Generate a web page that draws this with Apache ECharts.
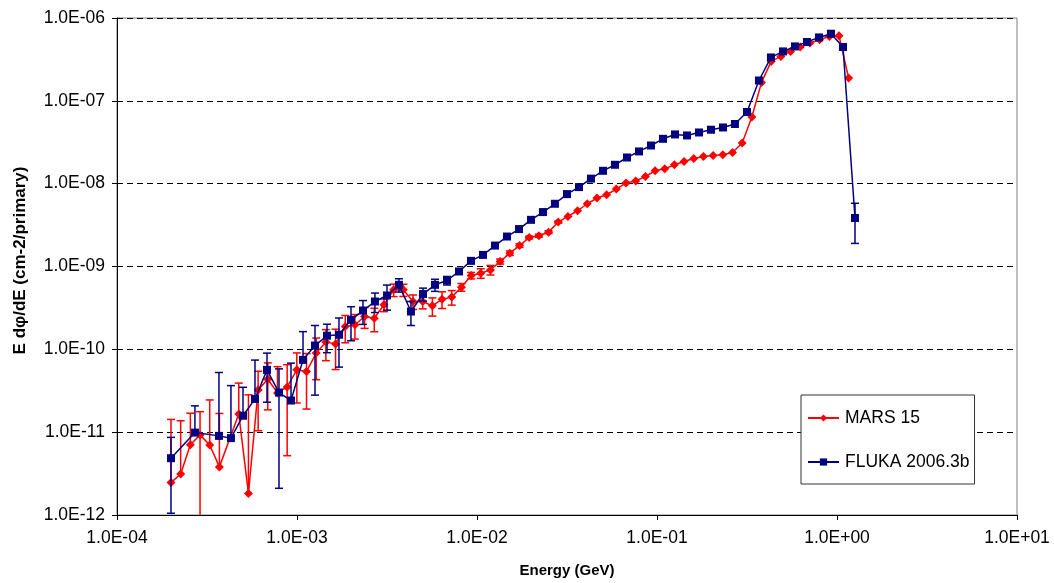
<!DOCTYPE html>
<html><head><meta charset="utf-8">
<script src="https://cdn.jsdelivr.net/npm/echarts@6/dist/echarts.min.js"></script>
<style>html,body{margin:0;padding:0;background:#fff}#c{width:1054px;height:583px}</style>
</head><body><div id="c"></div>
<script>
const seriesNames = ['MARS 15', 'FLUKA 2006.3b'];
const xTickLabels = ['1.0E-04','1.0E-03','1.0E-02','1.0E-01','1.0E+00','1.0E+01'];
const yTickLabels = ['1.0E-12','1.0E-11','1.0E-10','1.0E-09','1.0E-08','1.0E-07','1.0E-06'];

const marsX = [1.995e-4,2.258e-4,2.556e-4,2.893e-4,3.274e-4,3.706e-4,4.747e-4,5.373e-4,6.081e-4,6.883e-4,
  7.790e-4,8.817e-4,9.979e-4,1.1295e-3,1.2784e-3,1.4469e-3,1.6377e-3,1.8536e-3,2.098e-3,2.3746e-3,
  2.6876e-3,3.042e-3,3.443e-3,3.8969e-3,4.4107e-3,4.9922e-3,5.6503e-3,6.3952e-3,7.2383e-3,8.1926e-3,
  9.2727e-3,1.0495e-2,1.1879e-2,1.3445e-2,1.5218e-2,1.7224e-2,1.9495e-2,2.2065e-2,2.4974e-2,2.8266e-2,
  3.1993e-2,3.6211e-2,4.0984e-2,4.6388e-2,5.2503e-2,5.9425e-2,6.726e-2,7.6127e-2,8.6163e-2,9.7523e-2,
  0.11038,0.12493,0.1414,0.16004,0.18114,0.20502,0.23205,0.26265,0.29727,0.33646,
  0.38082,0.43103,0.48785,0.55217,0.62497,0.70736,0.80062,0.90617,1.02564,1.16085];
const marsY = [2.46e-12,3.13e-12,7.03e-12,9.27e-12,7.0e-12,3.81e-12,1.66e-11,1.82e-12,3.24e-11,4.36e-11,
  2.98e-11,3.52e-11,5.65e-11,5.40e-11,9.0e-11,1.23e-10,1.16e-10,1.88e-10,1.98e-10,2.49e-10,
  2.38e-10,3.45e-10,5.23e-10,5.23e-10,3.78e-10,3.78e-10,3.35e-10,4.03e-10,4.27e-10,5.63e-10,
  7.78e-10,8.3e-10,9.1e-10,1.15e-9,1.45e-9,1.79e-9,2.24e-9,2.35e-9,2.60e-9,3.44e-9,
  4.02e-9,4.71e-9,5.72e-9,6.70e-9,7.35e-9,8.61e-9,1.02e-8,1.08e-8,1.22e-8,1.43e-8,
  1.51e-8,1.69e-8,1.85e-8,2.01e-8,2.13e-8,2.19e-8,2.23e-8,2.38e-8,3.09e-8,6.37e-8,
  1.67e-7,2.99e-7,3.44e-7,3.95e-7,4.46e-7,4.99e-7,5.47e-7,6.0e-7,6.11e-7,1.88e-7];
const marsErr = [1.18e-11,1.06e-11,9.9e-12,8.4e-12,1.75e-11,1.3e-11,2.25e-11,2.64e-11,2.2e-11,2.5e-11,
  3.2e-11,3.0e-11,3.4e-11,3.5e-11,4.7e-11,5.0e-11,5.9e-11,6.8e-11,6.5e-11,7.0e-11,
  7.5e-11,6.0e-11,9.0e-11,8.8e-11,7.5e-11,7.0e-11,8.3e-11,9.2e-11,8.5e-11,6.0e-11,
  7.0e-11,1.1e-10,1.2e-10,8e-11,9e-11,9e-11,9e-11,1.0e-10,1.0e-10,1.0e-10,
  0,0,0,0,0,0,0,0,0,0, 0,0,0,0,0,0,0,0,0,0, 0,0,0,0,0,0,0,0,0,0];

const flukaX = [1.995e-4,2.710e-4,3.685e-4,4.296e-4,5.012e-4,5.843e-4,6.813e-4,7.943e-4,9.261e-4,1.080e-3,
  1.259e-3,1.468e-3,1.711e-3,1.995e-3,2.326e-3,2.710e-3,3.162e-3,3.685e-3,4.296e-3,5.012e-3,
  5.843e-3,6.813e-3,7.943e-3,9.261e-3,1.080e-2,1.259e-2,1.468e-2,1.711e-2,1.995e-2,2.326e-2,
  2.710e-2,3.162e-2,3.685e-2,4.296e-2,5.012e-2,5.843e-2,6.813e-2,7.943e-2,9.261e-2,0.1080,
  0.1259,0.1468,0.1711,0.1995,0.2326,0.2710,0.3162,0.3685,0.4296,0.5012,
  0.5843,0.6813,0.7943,0.9261,1.080,1.259];
const flukaY = [4.85e-12,9.88e-12,9.02e-12,8.47e-12,1.58e-11,2.52e-11,5.65e-11,3.01e-11,2.41e-11,7.46e-11,
  1.11e-10,1.46e-10,1.50e-10,2.27e-10,2.94e-10,3.78e-10,4.47e-10,6.01e-10,2.86e-10,4.65e-10,
  6.01e-10,6.78e-10,8.71e-10,1.17e-9,1.38e-9,1.79e-9,2.30e-9,2.83e-9,3.66e-9,4.54e-9,
  5.72e-9,7.48e-9,9.09e-9,1.15e-8,1.43e-8,1.69e-8,2.07e-8,2.45e-8,2.89e-8,3.48e-8,
  3.93e-8,3.82e-8,4.15e-8,4.48e-8,4.77e-8,5.25e-8,7.33e-8,1.76e-7,3.34e-7,3.95e-7,
  4.54e-7,5.13e-7,5.83e-7,6.46e-7,4.47e-7,3.85e-9];
const flukaErr = [3.8e-12,1.09e-11,4.35e-11,2.8e-11,1.9e-11,4.9e-11,3.35e-11,2.8e-11,4.4e-11,8.9e-11,
  8.3e-11,5.5e-11,8.9e-11,1.0e-10,9.4e-11,1.0e-10,1.5e-10,1.1e-10,9.2e-11,8.3e-11,
  1.0e-10,8e-11,6e-11,5e-11,0,0,0,0,0,0, 0,0,0,0,0,0,0,0,0,0,
  0,0,0,0,0,0,0,0,0,0, 0,0,0,0,0,1.95e-9];

const RED = '#FF0000', NAVY = '#000080';
const FONT = 'Liberation Sans, Arial, sans-serif';

function pairs(xs, ys) { return xs.map((x, i) => [x, ys[i]]); }
function triples(xs, ys, es) { return xs.map((x, i) => [x, ys[i], es[i]]); }

function errRenderer(color) {
  return function (params, api) {
    const x = api.value(0), y = api.value(1), e = api.value(2);
    if (!e) return null;
    const cs = params.coordSys;
    const top = cs.y, bottom = cs.y + cs.height;
    const p = api.coord([x, y]);
    const half = 4;
    const st = { stroke: color, lineWidth: 1.5 };
    const kids = [];
    let uy = Math.max(api.coord([x, y + e])[1], top);
    kids.push({ type: 'line', shape: { x1: p[0], y1: p[1], x2: p[0], y2: uy }, style: st });
    kids.push({ type: 'line', shape: { x1: p[0] - half, y1: uy, x2: p[0] + half, y2: uy }, style: st });
    if (y - e > 0) {
      let ly = api.coord([x, y - e])[1];
      let clipped = false;
      if (ly > bottom) { ly = bottom; clipped = true; }
      kids.push({ type: 'line', shape: { x1: p[0], y1: p[1], x2: p[0], y2: ly }, style: st });
      if (!clipped) kids.push({ type: 'line', shape: { x1: p[0] - half, y1: ly, x2: p[0] + half, y2: ly }, style: st });
    }
    return { type: 'group', children: kids };
  };
}

function expLabel(arr, minExp) {
  return function (v) {
    const i = Math.round(Math.log10(v)) - minExp;
    return arr[i] !== undefined ? arr[i] : '';
  };
}

const chart = echarts.init(document.getElementById('c'), null, { renderer: 'canvas' });
chart.setOption({
  animation: false,
  backgroundColor: '#fff',
  textStyle: { fontFamily: FONT },
  grid: { left: 117, right: 37, top: 18, bottom: 68, show: true, borderColor: '#808080', borderWidth: 1 },
  legend: {
    data: seriesNames,
    orient: 'vertical',
    left: 801, top: 395,
    padding: [14, 5, 13, 6],
    itemGap: 26,
    itemWidth: 31, itemHeight: 9,
    backgroundColor: '#fff',
    borderColor: '#333', borderWidth: 1,
    textStyle: { fontSize: 17.5, color: '#000', fontFamily: FONT, padding: [0, 0, 0, 1] }
  },
  xAxis: {
    type: 'log', logBase: 10, min: 1e-4, max: 10,
    name: 'Energy (GeV)', nameLocation: 'middle', nameGap: 48,
    nameTextStyle: { fontSize: 15, fontWeight: 'bold', color: '#000', fontFamily: FONT },
    axisLine: { lineStyle: { color: '#000', width: 1 } },
    axisTick: { show: true, length: 5, lineStyle: { color: '#000' } },
    minorTick: { show: false },
    axisLabel: { fontSize: 17.5, color: '#000', margin: 14, formatter: expLabel(xTickLabels, -4), fontFamily: FONT },
    splitLine: { show: false }
  },
  yAxis: {
    type: 'log', logBase: 10, min: 1e-12, max: 1e-6,
    name: 'E dφ/dE (cm-2/primary)', nameLocation: 'middle', nameGap: 88,
    nameTextStyle: { fontSize: 17, fontWeight: 'bold', color: '#000', fontFamily: FONT, padding: [0, 0, 0, 12] },
    axisLine: { lineStyle: { color: '#000', width: 1 } },
    axisTick: { show: true, length: 5, lineStyle: { color: '#000' } },
    axisLabel: { fontSize: 17.5, color: '#000', margin: 12, formatter: expLabel(yTickLabels, -12), fontFamily: FONT },
    splitLine: { show: true, lineStyle: { color: '#000', type: [6, 4], width: 1 } }
  },
  series: [
    { type: 'custom', name: 'MARS err', data: triples(marsX, marsY, marsErr), renderItem: errRenderer(RED),
      encode: { x: 0, y: 1 }, z: 2, silent: true },
    { type: 'line', name: seriesNames[0], data: pairs(marsX, marsY), symbol: 'diamond', symbolSize: 9,
      showSymbol: true, itemStyle: { color: RED }, lineStyle: { color: RED, width: 1.5 }, z: 3 },
    { type: 'custom', name: 'FLUKA err', data: triples(flukaX, flukaY, flukaErr), renderItem: errRenderer(NAVY),
      encode: { x: 0, y: 1 }, z: 4, silent: true },
    { type: 'line', name: seriesNames[1], data: pairs(flukaX, flukaY), symbol: 'rect', symbolSize: 8,
      showSymbol: true, itemStyle: { color: NAVY }, lineStyle: { color: NAVY, width: 1.5 }, z: 5 }
  ]
});
</script>
</body></html>
